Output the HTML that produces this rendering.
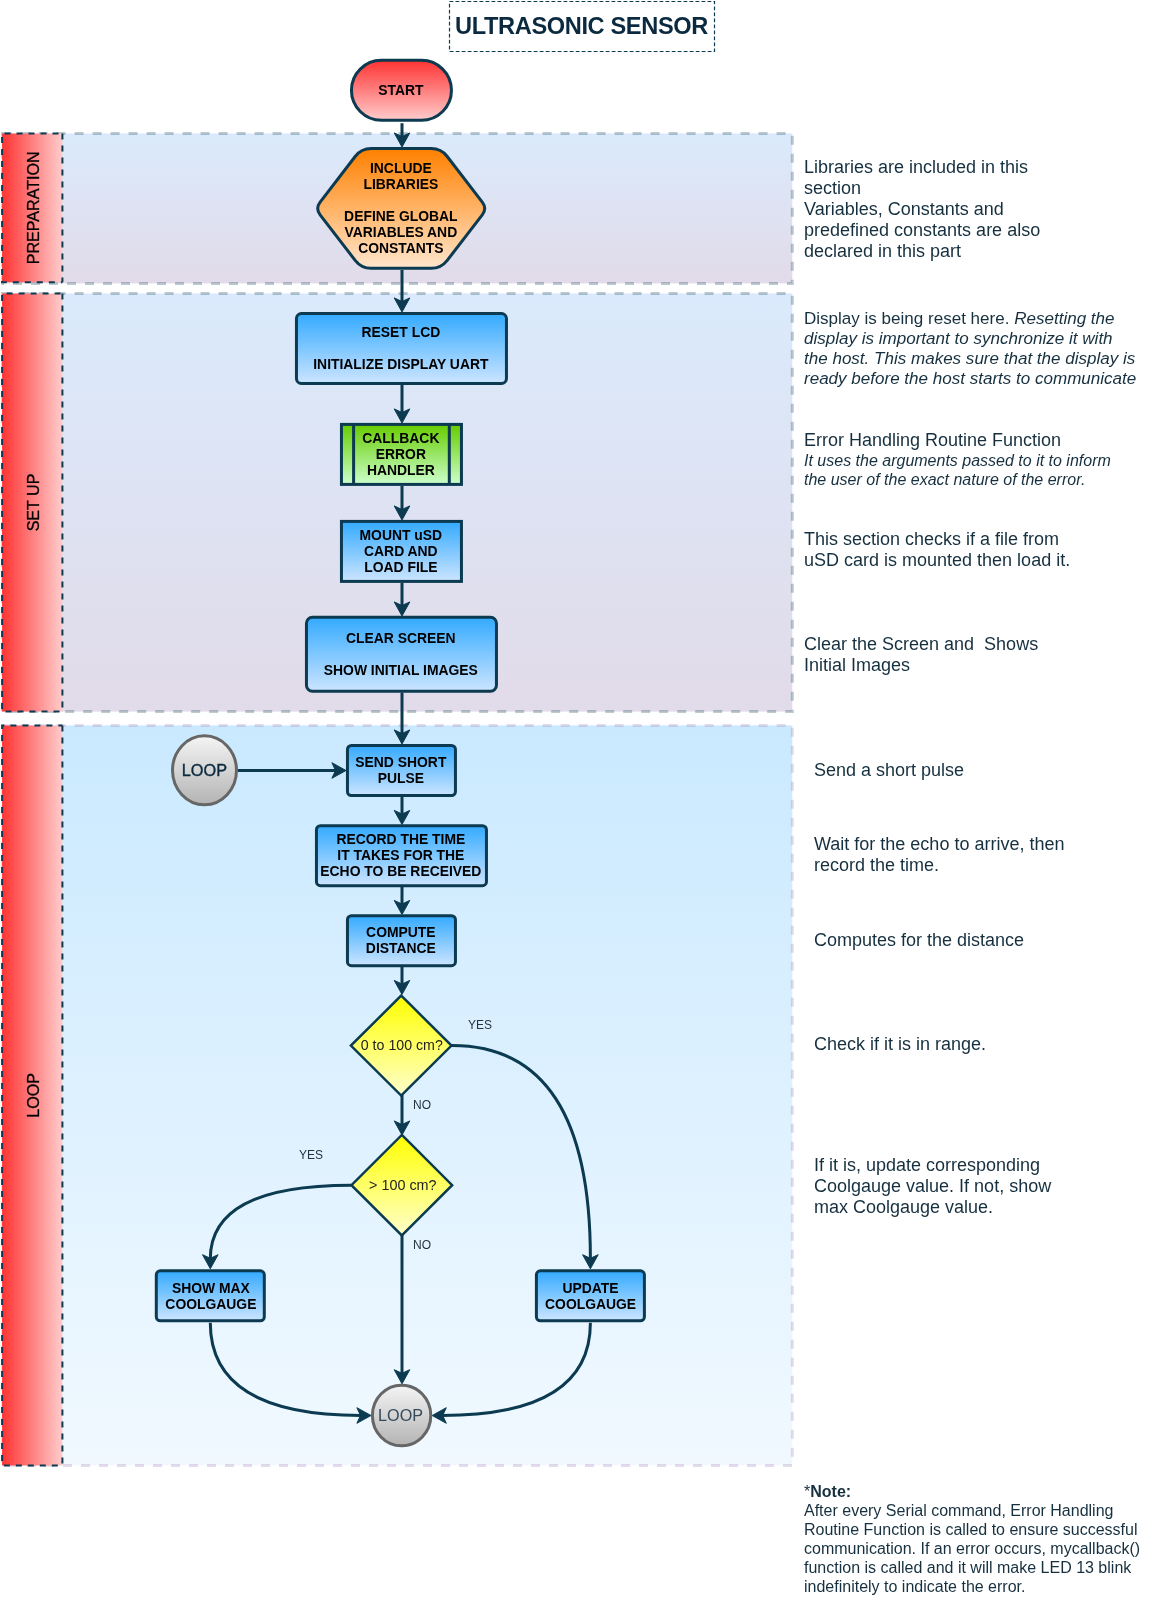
<!DOCTYPE html>
<html lang="en">
<head>
<meta charset="utf-8">
<title>Ultrasonic Sensor Flowchart</title>
<style>
html,body{margin:0;padding:0;background:#fff;}
body{width:1154px;height:1614px;overflow:hidden;}
svg{display:block;font-family:"Liberation Sans",Arial,Helvetica,sans-serif;}
svg{will-change:transform;}
</style>
</head>
<body>
<svg width="1154" height="1614" viewBox="0 0 1154 1614">

<defs>
<linearGradient id="gRedV" x1="0" y1="0" x2="0" y2="1"><stop offset="0" stop-color="#ff3333"/><stop offset="1" stop-color="#ffcccc"/></linearGradient>
<linearGradient id="gRedH" x1="0" y1="0" x2="1" y2="0"><stop offset="0" stop-color="#ff3333"/><stop offset="1" stop-color="#ffcccc"/></linearGradient>
<linearGradient id="gOrange" x1="0" y1="0" x2="0" y2="1"><stop offset="0" stop-color="#ff8000"/><stop offset="1" stop-color="#ffe6cc"/></linearGradient>
<linearGradient id="gBlue" x1="0" y1="0" x2="0" y2="1"><stop offset="0" stop-color="#33aaff"/><stop offset="1" stop-color="#cce5ff"/></linearGradient>
<linearGradient id="gGreen" x1="0" y1="0" x2="0" y2="1"><stop offset="0" stop-color="#66cc00"/><stop offset="1" stop-color="#ccffcc"/></linearGradient>
<linearGradient id="gYellow" x1="0" y1="0" x2="0" y2="1"><stop offset="0" stop-color="#ffff00"/><stop offset="1" stop-color="#ffffcc"/></linearGradient>
<linearGradient id="gGrey" x1="0" y1="0" x2="0" y2="1"><stop offset="0" stop-color="#f5f5f5"/><stop offset="1" stop-color="#b3b3b3"/></linearGradient>
<linearGradient id="gLane" x1="0" y1="0" x2="0" y2="1"><stop offset="0" stop-color="#daeafc"/><stop offset="1" stop-color="#e2dbe9"/></linearGradient>
<linearGradient id="gLoop" x1="0" y1="0" x2="0" y2="1"><stop offset="0" stop-color="#cae9ff"/><stop offset="1" stop-color="#f1f9ff"/></linearGradient>
</defs>

<rect x="2.6" y="133.4" width="789.6999999999999" height="150.00" fill="url(#gLane)" stroke="#0c3a50" stroke-opacity="0.27" stroke-width="3" stroke-dasharray="9 9"/>
<path d="M62.4 133.4 L2.1 133.4 L2.1 282.3 L62.4 282.3" fill="url(#gRedH)" stroke="#0c3a50" stroke-width="2" stroke-dasharray="6 6" stroke-dashoffset="8.1"/>
<path d="M62.4 133.4 L62.4 282.3" fill="none" stroke="#0c3a50" stroke-width="2" stroke-dasharray="6 6"/>
<text transform="translate(33.5,207.85000000000002) rotate(-90)" text-anchor="middle" font-size="16.1" fill="#000" stroke="#000" stroke-width="0.3" y="5.5">PREPARATION</text>
<rect x="2.6" y="293.4" width="789.6999999999999" height="418.20" fill="url(#gLane)" stroke="#0c3a50" stroke-opacity="0.27" stroke-width="3" stroke-dasharray="9 9"/>
<path d="M62.4 293.4 L2.1 293.4 L2.1 711.5 L62.4 711.5" fill="url(#gRedH)" stroke="#0c3a50" stroke-width="2" stroke-dasharray="6 6" stroke-dashoffset="10.2"/>
<path d="M62.4 293.4 L62.4 711.5" fill="none" stroke="#0c3a50" stroke-width="2" stroke-dasharray="6 6"/>
<text transform="translate(33.5,502.45) rotate(-90)" text-anchor="middle" font-size="16.1" fill="#000" stroke="#000" stroke-width="0.3" y="5.5">SET UP</text>
<rect x="2.6" y="725.4" width="789.6999999999999" height="740.00" fill="url(#gLoop)" stroke="#9673a6" stroke-opacity="0.25" stroke-width="3" stroke-dasharray="9 9"/>
<path d="M62.4 725.4 L2.1 725.4 L2.1 1465.4 L62.4 1465.4" fill="url(#gRedH)" stroke="#0c3a50" stroke-width="2" stroke-dasharray="6 6" stroke-dashoffset="2.0"/>
<path d="M62.4 725.4 L62.4 1465.4" fill="none" stroke="#0c3a50" stroke-width="2" stroke-dasharray="6 6"/>
<text transform="translate(33.5,1095.4) rotate(-90)" text-anchor="middle" font-size="16.1" fill="#000" stroke="#000" stroke-width="0.3" y="5.5">LOOP</text>
<rect x="449.5" y="1.5" width="265" height="50" fill="#fff" stroke="#0c3a50" stroke-width="1.2" stroke-dasharray="3.8 2.2"/>
<text x="581.5" y="34" text-anchor="middle" font-size="23.6" letter-spacing="-0.37" font-weight="bold" fill="#0b2a3f">ULTRASONIC SENSOR</text>
<path d="M402.0 123.2 L402.0 137" stroke="#0c3a50" stroke-width="3" fill="none"/>
<path d="M402.00 147.00 L394.20 132.90 L402.00 136.50 L409.80 132.90 Z" fill="#0c3a50" stroke="#0c3a50" stroke-width="1" stroke-linejoin="miter"/>
<path d="M402.0 270 L402.0 302" stroke="#0c3a50" stroke-width="3" fill="none"/>
<path d="M402.00 312.00 L394.20 297.90 L402.00 301.50 L409.80 297.90 Z" fill="#0c3a50" stroke="#0c3a50" stroke-width="1" stroke-linejoin="miter"/>
<path d="M402.0 385 L402.0 413" stroke="#0c3a50" stroke-width="3" fill="none"/>
<path d="M402.00 423.00 L394.20 408.90 L402.00 412.50 L409.80 408.90 Z" fill="#0c3a50" stroke="#0c3a50" stroke-width="1" stroke-linejoin="miter"/>
<path d="M402.0 486 L402.0 510" stroke="#0c3a50" stroke-width="3" fill="none"/>
<path d="M402.00 520.00 L394.20 505.90 L402.00 509.50 L409.80 505.90 Z" fill="#0c3a50" stroke="#0c3a50" stroke-width="1" stroke-linejoin="miter"/>
<path d="M402.0 583 L402.0 606" stroke="#0c3a50" stroke-width="3" fill="none"/>
<path d="M402.00 616.00 L394.20 601.90 L402.00 605.50 L409.80 601.90 Z" fill="#0c3a50" stroke="#0c3a50" stroke-width="1" stroke-linejoin="miter"/>
<path d="M402.0 692.5 L402.0 734" stroke="#0c3a50" stroke-width="3" fill="none"/>
<path d="M402.00 744.00 L394.20 729.90 L402.00 733.50 L409.80 729.90 Z" fill="#0c3a50" stroke="#0c3a50" stroke-width="1" stroke-linejoin="miter"/>
<path d="M402.0 796.5 L402.0 814.5" stroke="#0c3a50" stroke-width="3" fill="none"/>
<path d="M402.00 824.50 L394.20 810.40 L402.00 814.00 L409.80 810.40 Z" fill="#0c3a50" stroke="#0c3a50" stroke-width="1" stroke-linejoin="miter"/>
<path d="M402.0 887 L402.0 904.5" stroke="#0c3a50" stroke-width="3" fill="none"/>
<path d="M402.00 914.50 L394.20 900.40 L402.00 904.00 L409.80 900.40 Z" fill="#0c3a50" stroke="#0c3a50" stroke-width="1" stroke-linejoin="miter"/>
<path d="M402.0 967 L402.0 984.5" stroke="#0c3a50" stroke-width="3" fill="none"/>
<path d="M402.00 994.50 L394.20 980.40 L402.00 984.00 L409.80 980.40 Z" fill="#0c3a50" stroke="#0c3a50" stroke-width="1" stroke-linejoin="miter"/>
<path d="M402.0 1095 L402.0 1125" stroke="#0c3a50" stroke-width="3" fill="none"/>
<path d="M402.00 1135.00 L394.20 1120.90 L402.00 1124.50 L409.80 1120.90 Z" fill="#0c3a50" stroke="#0c3a50" stroke-width="1" stroke-linejoin="miter"/>
<path d="M402.0 1235 L402.0 1373.8" stroke="#0c3a50" stroke-width="3" fill="none"/>
<path d="M402.00 1383.80 L394.20 1369.70 L402.00 1373.30 L409.80 1369.70 Z" fill="#0c3a50" stroke="#0c3a50" stroke-width="1" stroke-linejoin="miter"/>
<path d="M238 770.5 L336 770.5" stroke="#0c3a50" stroke-width="3" fill="none"/>
<path d="M346.00 770.50 L331.90 778.30 L335.50 770.50 L331.90 762.70 Z" fill="#0c3a50" stroke="#0c3a50" stroke-width="1" stroke-linejoin="miter"/>
<path d="M452 1045.6 Q590.4 1045.6 590.4 1258.8" stroke="#0c3a50" stroke-width="3" fill="none"/>
<path d="M590.40 1268.80 L582.60 1254.70 L590.40 1258.30 L598.20 1254.70 Z" fill="#0c3a50" stroke="#0c3a50" stroke-width="1" stroke-linejoin="miter"/>
<path d="M351 1185.2 Q210.3 1185.2 210.3 1258.8" stroke="#0c3a50" stroke-width="3" fill="none"/>
<path d="M210.30 1268.80 L202.50 1254.70 L210.30 1258.30 L218.10 1254.70 Z" fill="#0c3a50" stroke="#0c3a50" stroke-width="1" stroke-linejoin="miter"/>
<path d="M210.3 1322.8 Q210.3 1415.5 361.0 1415.5" stroke="#0c3a50" stroke-width="3" fill="none"/>
<path d="M371.00 1415.50 L356.90 1423.30 L360.50 1415.50 L356.90 1407.70 Z" fill="#0c3a50" stroke="#0c3a50" stroke-width="1" stroke-linejoin="miter"/>
<path d="M590.4 1322.8 Q590.4 1415.5 442.2 1415.5" stroke="#0c3a50" stroke-width="3" fill="none"/>
<path d="M432.20 1415.50 L446.30 1407.70 L442.70 1415.50 L446.30 1423.30 Z" fill="#0c3a50" stroke="#0c3a50" stroke-width="1" stroke-linejoin="miter"/>
<rect x="351.45" y="60.3" width="100" height="60" rx="30" ry="30" fill="url(#gRedV)" stroke="#0c3a50" stroke-width="3"/>
<text text-anchor="middle" font-size="13.9" font-weight="bold" fill="#000" letter-spacing="0" ><tspan x="400.84999999999997" y="95.08">START</tspan></text>
<path d="M355.16 156.53 Q361.25 148.60 371.25 148.60 L431.15 148.60 Q441.15 148.60 447.24 156.53 L482.27 202.11 Q487.15 208.45 482.27 214.79 L447.24 260.37 Q441.15 268.30 431.15 268.30 L371.25 268.30 Q361.25 268.30 355.16 260.37 L320.13 214.79 Q315.25 208.45 320.13 202.11 Z" fill="url(#gOrange)" stroke="#0c3a50" stroke-width="3"/>
<text text-anchor="middle" font-size="13.9" font-weight="bold" fill="#000" letter-spacing="0" ><tspan x="400.84999999999997" y="172.68">INCLUDE</tspan><tspan x="400.84999999999997" y="188.68">LIBRARIES</tspan><tspan x="400.84999999999997" y="220.68">DEFINE GLOBAL</tspan><tspan x="400.84999999999997" y="236.68">VARIABLES AND</tspan><tspan x="400.84999999999997" y="252.68">CONSTANTS</tspan></text>
<rect x="296.45" y="313.5" width="210" height="70" rx="5" ry="5" fill="url(#gBlue)" stroke="#0c3a50" stroke-width="3"/>
<text text-anchor="middle" font-size="13.9" font-weight="bold" fill="#000" letter-spacing="0" ><tspan x="400.84999999999997" y="337.28">RESET LCD</tspan><tspan x="400.84999999999997" y="369.28">INITIALIZE DISPLAY UART</tspan></text>
<rect x="341.45" y="424.4" width="120" height="60" rx="0" ry="0" fill="url(#gGreen)" stroke="#0c3a50" stroke-width="3"/>
<path d="M353.6 424.4 V484.4 M449.3 424.4 V484.4" stroke="#0c3a50" stroke-width="3" fill="none"/>
<text text-anchor="middle" font-size="13.9" font-weight="bold" fill="#000" letter-spacing="0" ><tspan x="400.84999999999997" y="443.18">CALLBACK</tspan><tspan x="400.84999999999997" y="459.18">ERROR</tspan><tspan x="400.84999999999997" y="475.18">HANDLER</tspan></text>
<rect x="341.45" y="521.4" width="120" height="60" rx="0" ry="0" fill="url(#gBlue)" stroke="#0c3a50" stroke-width="3"/>
<text text-anchor="middle" font-size="13.9" font-weight="bold" fill="#000" letter-spacing="0" ><tspan x="400.84999999999997" y="540.18">MOUNT uSD</tspan><tspan x="400.84999999999997" y="556.18">CARD AND</tspan><tspan x="400.84999999999997" y="572.18">LOAD FILE</tspan></text>
<rect x="306.45" y="617.3" width="190" height="74" rx="6" ry="6" fill="url(#gBlue)" stroke="#0c3a50" stroke-width="3"/>
<text text-anchor="middle" font-size="13.9" font-weight="bold" fill="#000" letter-spacing="0" ><tspan x="400.84999999999997" y="643.08">CLEAR SCREEN</tspan><tspan x="400.84999999999997" y="675.08">SHOW INITIAL IMAGES</tspan></text>
<ellipse cx="204.5" cy="770.3" rx="32" ry="34.5" fill="url(#gGrey)" stroke="#666" stroke-width="3"/>
<text text-anchor="middle" font-size="16.3" font-weight="normal" fill="#0b2a3f" letter-spacing="0" stroke="#0b2a3f" stroke-width="0.35"><tspan x="204.4" y="775.91">LOOP</tspan></text>
<rect x="347.45" y="745.5" width="108" height="50" rx="4" ry="4" fill="url(#gBlue)" stroke="#0c3a50" stroke-width="3"/>
<text text-anchor="middle" font-size="13.9" font-weight="bold" fill="#000" letter-spacing="0" ><tspan x="400.84999999999997" y="767.28">SEND SHORT</tspan><tspan x="400.84999999999997" y="783.28">PULSE</tspan></text>
<rect x="316.45" y="825.7" width="170" height="60" rx="4" ry="4" fill="url(#gBlue)" stroke="#0c3a50" stroke-width="3"/>
<text text-anchor="middle" font-size="13.9" font-weight="bold" fill="#000" letter-spacing="0" ><tspan x="400.84999999999997" y="844.48">RECORD THE TIME</tspan><tspan x="400.84999999999997" y="860.48">IT TAKES FOR THE</tspan><tspan x="400.84999999999997" y="876.48">ECHO TO BE RECEIVED</tspan></text>
<rect x="347.45" y="915.7" width="108" height="50" rx="4" ry="4" fill="url(#gBlue)" stroke="#0c3a50" stroke-width="3"/>
<text text-anchor="middle" font-size="13.9" font-weight="bold" fill="#000" letter-spacing="0" ><tspan x="400.84999999999997" y="937.48">COMPUTE</tspan><tspan x="400.84999999999997" y="953.48">DISTANCE</tspan></text>
<path d="M401.2 995.5999999999999 L451.5 1045.6 L401.2 1095.6 L350.9 1045.6 Z" fill="url(#gYellow)" stroke="#0c3a50" stroke-width="2.5" stroke-linejoin="miter"/>
<text text-anchor="middle" font-size="14.2" font-weight="normal" fill="#222" letter-spacing="0" ><tspan x="401.79999999999995" y="1049.88">0 to 100 cm?</tspan></text>
<path d="M401.8 1134.9 L452.15000000000003 1185.2 L401.8 1235.5 L351.45 1185.2 Z" fill="url(#gYellow)" stroke="#0c3a50" stroke-width="2.5" stroke-linejoin="miter"/>
<text text-anchor="middle" font-size="14.4" font-weight="normal" fill="#222" letter-spacing="0" ><tspan x="402.79999999999995" y="1190.05">&gt; 100 cm?</tspan></text>
<rect x="156.3" y="1270.8" width="108" height="50" rx="4" ry="4" fill="url(#gBlue)" stroke="#0c3a50" stroke-width="3"/>
<text text-anchor="middle" font-size="13.9" font-weight="bold" fill="#000" letter-spacing="0" ><tspan x="210.9" y="1292.58">SHOW MAX</tspan><tspan x="210.9" y="1308.58">COOLGAUGE</tspan></text>
<rect x="536.4" y="1270.8" width="108" height="50" rx="4" ry="4" fill="url(#gBlue)" stroke="#0c3a50" stroke-width="3"/>
<text text-anchor="middle" font-size="13.9" font-weight="bold" fill="#000" letter-spacing="0" ><tspan x="590.6" y="1292.58">UPDATE</tspan><tspan x="590.6" y="1308.58">COOLGAUGE</tspan></text>
<ellipse cx="401.6" cy="1415.5" rx="29.2" ry="30.3" fill="url(#gGrey)" stroke="#666" stroke-width="3"/>
<text text-anchor="middle" font-size="16.2" font-weight="normal" fill="#34495a" letter-spacing="0" ><tspan x="400.59999999999997" y="1420.97">LOOP</tspan></text>
<text x="480" y="1029" text-anchor="middle" font-size="12" fill="#26333d">YES</text>
<text x="422" y="1109" text-anchor="middle" font-size="12" fill="#26333d">NO</text>
<text x="311" y="1159" text-anchor="middle" font-size="12" fill="#26333d">YES</text>
<text x="422" y="1249" text-anchor="middle" font-size="12" fill="#26333d">NO</text>
<text font-size="18" fill="#16303f" font-style="normal" font-weight="normal"><tspan x="804" y="173.00">Libraries are included in this</tspan><tspan x="804" y="194.07">section</tspan><tspan x="804" y="215.14">Variables, Constants and</tspan><tspan x="804" y="236.21">predefined constants are also</tspan><tspan x="804" y="257.28">declared in this part</tspan></text>
<text font-size="17.04" fill="#16303f"><tspan x="804" y="324">Display is being reset here. <tspan font-style="italic">Resetting the</tspan></tspan><tspan x="804" y="344" font-style="italic">display is important to synchronize it with</tspan><tspan x="804" y="364" font-style="italic">the host. This makes sure that the display is</tspan><tspan x="804" y="384" font-style="italic">ready before the host starts to communicate</tspan></text>
<text font-size="18" fill="#16303f" font-style="normal" font-weight="normal"><tspan x="804" y="446.00">Error Handling Routine Function</tspan></text>
<text font-size="16" fill="#16303f" font-style="italic" font-weight="normal"><tspan x="804" y="466.00">It uses the arguments passed to it to inform</tspan><tspan x="804" y="485.00">the user of the exact nature of the error.</tspan></text>
<text font-size="18" fill="#16303f" font-style="normal" font-weight="normal"><tspan x="804" y="545.00">This section checks if a file from</tspan><tspan x="804" y="566.00">uSD card is mounted then load it.</tspan></text>
<text font-size="18" fill="#16303f" font-style="normal" font-weight="normal"><tspan x="804" y="650.00">Clear the Screen and  Shows</tspan><tspan x="804" y="671.00">Initial Images</tspan></text>
<text font-size="18" fill="#16303f" font-style="normal" font-weight="normal"><tspan x="814" y="776.00">Send a short pulse</tspan></text>
<text font-size="18" fill="#16303f" font-style="normal" font-weight="normal"><tspan x="814" y="850.00">Wait for the echo to arrive, then</tspan><tspan x="814" y="871.00">record the time.</tspan></text>
<text font-size="18" fill="#16303f" font-style="normal" font-weight="normal"><tspan x="814" y="946.00">Computes for the distance</tspan></text>
<text font-size="18" fill="#16303f" font-style="normal" font-weight="normal"><tspan x="814" y="1050.00">Check if it is in range.</tspan></text>
<text font-size="18" fill="#16303f" font-style="normal" font-weight="normal"><tspan x="814" y="1171.00">If it is, update corresponding</tspan><tspan x="814" y="1192.00">Coolgauge value. If not, show</tspan><tspan x="814" y="1213.00">max Coolgauge value.</tspan></text>
<text font-size="16" fill="#16303f"><tspan x="804" y="1497">*<tspan font-weight="bold">Note:</tspan></tspan></text>
<text font-size="16" fill="#16303f" font-style="normal" font-weight="normal"><tspan x="804" y="1515.50">After every Serial command, Error Handling</tspan><tspan x="804" y="1534.50">Routine Function is called to ensure successful</tspan><tspan x="804" y="1553.50">communication. If an error occurs, mycallback()</tspan><tspan x="804" y="1572.50">function is called and it will make LED 13 blink</tspan><tspan x="804" y="1591.50">indefinitely to indicate the error.</tspan></text>
</svg>
</body>
</html>
